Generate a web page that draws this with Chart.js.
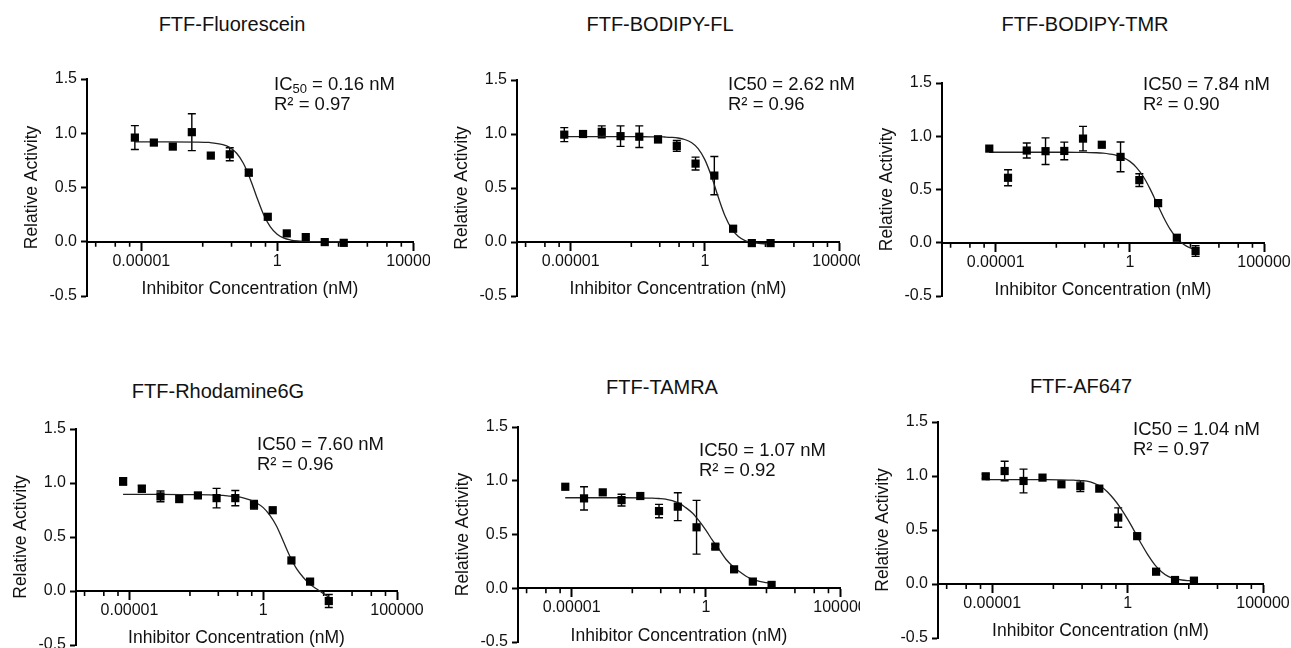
<!DOCTYPE html>
<html>
<head>
<meta charset="utf-8">
<script src="https://cdn.jsdelivr.net/npm/chart.js"></script>
<style>
body { margin: 0; background: #fff; width: 1291px; height: 648px; overflow: hidden; position: relative; font-family: "Liberation Sans", Arial, Helvetica, sans-serif; }
.panel { position: absolute; }
.ptitle { position: absolute; font-size: 20px; color: #111; transform: translate(-50%, -50%); white-space: nowrap; }
</style>
</head>
<body>
<script>
// inhibitor concentrations (nM), 5-fold dilution
const conc = [5.78e-6, 2.89e-5, 1.44e-4, 7.22e-4, 3.61e-3, 0.0180, 0.0902, 0.451, 2.26, 11.3, 56.4, 282];
const curveX = [5.75e-6, 1e-4, 1e-3, 3.16e-3, 0.01, 0.0178, 0.0316, 0.0562, 0.1, 0.178, 0.316, 0.562, 1, 1.78, 3.16, 5.62, 10, 17.8, 31.6, 56.2, 100, 178, 282];

const xTickVals = [1e-5, 1, 1e5];
const xTickLabels = ["0.00001", "1", "100000"];
const xMinorExp = [-6.68, -5.96, -5.43, -2.74, -1.68, -0.96, -0.43, 2.26, 3.32, 4.04, 4.57];
const yTickVals = [-0.5, 0, 0.5, 1, 1.5];

const titles = ["FTF-Fluorescein", "FTF-BODIPY-FL", "FTF-BODIPY-TMR", "FTF-Rhodamine6G", "FTF-TAMRA", "FTF-AF647"];
const ic50 = ["0.16", "2.62", "7.84", "7.60", "1.07", "1.04"];
const r2 = ["0.97", "0.96", "0.90", "0.96", "0.92", "0.97"];

const fluoMean = [0.96, 0.914, 0.877, 1.01, 0.794, 0.806, 0.637, 0.23, 0.077, 0.043, -0.003, -0.01];
const fluoErr = [0.11, 0, 0, 0.17, 0, 0.06, 0.03, 0, 0, 0, 0, 0];
const fluoFit = [0.92, 0.92, 0.919, 0.915, 0.896, 0.87, 0.818, 0.726, 0.584, 0.411, 0.251, 0.137, 0.069, 0.033, 0.016, 0.0074, 0.0035, 0.0016, 0.001, 0, 0, 0, 0];

const flMean = [0.994, 1.0, 1.02, 0.98, 0.975, 0.95, 0.89, 0.726, 0.615, 0.123, -0.01, -0.01];
const flErr = [0.065, 0.02, 0.055, 0.095, 0.1, 0.03, 0.05, 0.06, 0.177, 0.02, 0, 0];
const flFit = [0.975, 0.975, 0.975, 0.975, 0.974, 0.974, 0.972, 0.969, 0.963, 0.949, 0.921, 0.865, 0.763, 0.606, 0.416, 0.243, 0.121, 0.05, 0.0135, -0.004, -0.013, -0.0166, -0.018];

const tmrMean = [0.884, 0.61, 0.866, 0.86, 0.862, 0.978, 0.92, 0.806, 0.588, 0.372, 0.047, -0.078];
const tmrErr = [0, 0.075, 0.07, 0.125, 0.083, 0.115, 0, 0.14, 0.06, 0.03, 0, 0.05];
const tmrFit = [0.85, 0.85, 0.85, 0.8497, 0.849, 0.848, 0.847, 0.845, 0.841, 0.833, 0.821, 0.799, 0.764, 0.706, 0.622, 0.508, 0.375, 0.242, 0.128, 0.043, -0.014, -0.0495, -0.0675];

const rhoMean = [1.015, 0.947, 0.876, 0.851, 0.885, 0.86, 0.86, 0.798, 0.748, 0.283, 0.087, -0.093];
const rhoErr = [0.035, 0.03, 0.05, 0, 0, 0.09, 0.07, 0.04, 0, 0, 0, 0.06];
const rhoFit = [0.894, 0.894, 0.893, 0.892, 0.89, 0.888, 0.885, 0.879, 0.873, 0.862, 0.843, 0.815, 0.772, 0.7, 0.6, 0.46, 0.32, 0.205, 0.125, 0.062, 0.018, -0.024, -0.056];

const tamMean = [0.944, 0.836, 0.892, 0.82, 0.858, 0.718, 0.759, 0.567, 0.387, 0.176, 0.062, 0.031];
const tamErr = [0, 0.108, 0, 0.055, 0, 0.062, 0.13, 0.25, 0.02, 0, 0, 0];
const tamFit = [0.842, 0.842, 0.842, 0.841, 0.838, 0.835, 0.83, 0.815, 0.792, 0.75, 0.7, 0.626, 0.54, 0.445, 0.36, 0.27, 0.205, 0.155, 0.112, 0.082, 0.063, 0.052, 0.046];

const afMean = [0.997, 1.046, 0.954, 0.985, 0.923, 0.905, 0.883, 0.615, 0.443, 0.114, 0.037, 0.031];
const afErr = [0.02, 0.09, 0.11, 0, 0, 0.05, 0, 0.09, 0, 0, 0, 0.02];
const afFit = [0.966, 0.966, 0.966, 0.965, 0.962, 0.958, 0.953, 0.935, 0.905, 0.855, 0.785, 0.7, 0.6, 0.49, 0.375, 0.27, 0.18, 0.113, 0.07, 0.05, 0.037, 0.031, 0.028];

const means = [fluoMean, flMean, tmrMean, rhoMean, tamMean, afMean];
const errs = [fluoErr, flErr, tmrErr, rhoErr, tamErr, afErr];
const fits = [fluoFit, flFit, tmrFit, rhoFit, tamFit, afFit];

// plot box [y-axis x, top(1.5), right(1e5), bottom(-0.5)], canvas right edge, title centre, note position
const panels = [
	{ box: [87, 79, 413, 296], edge: 430, title: [232, 24], note: [274, 85] },
	{ box: [517, 80, 839, 296], edge: 860, title: [660, 24], note: [728, 85] },
	{ box: [942, 83, 1264, 296], edge: 1291, title: [1085, 24], note: [1143, 85] },
	{ box: [76, 429, 397, 645], edge: 430, title: [218, 391], note: [257, 445] },
	{ box: [518, 427, 840, 642], edge: 860, title: [662, 387], note: [699, 451] },
	{ box: [938, 422, 1263, 638], edge: 1291, title: [1081, 386], note: [1133, 430] },
];

const fam = '"Liberation Sans", Arial, Helvetica, sans-serif';
Chart.defaults.font.family = fam;
Chart.defaults.color = "#111";

const yW = 80;
const padTop = 12;
const padBottom = 12;

const extras = {
	id: "extras",
	beforeDatasetsDraw(chart, args, opts) {
		let i = opts.panel;
		let ctx = chart.ctx;
		let xs = chart.scales.x, ys = chart.scales.y;
		ctx.save();
		ctx.strokeStyle = "#000";
		ctx.lineWidth = 1.4;
		means[i].forEach((m, k) => {
			let e = errs[i][k];
			if(!e) {
				return;
			}
			let px = xs.getPixelForValue(conc[k]);
			let t = ys.getPixelForValue(m + e);
			let b = ys.getPixelForValue(m - e);
			ctx.beginPath();
			ctx.moveTo(px, t);
			ctx.lineTo(px, b);
			ctx.moveTo(px - 4, t);
			ctx.lineTo(px + 4, t);
			ctx.moveTo(px - 4, b);
			ctx.lineTo(px + 4, b);
			ctx.stroke();
		});
		// short minor ticks under the x axis
		let y0 = ys.getPixelForValue(0);
		ctx.lineWidth = 1.6;
		xMinorExp.forEach((ex) => {
			let px = xs.getPixelForValue(Math.pow(10, ex));
			ctx.beginPath();
			ctx.moveTo(px, y0);
			ctx.lineTo(px, y0 + 5);
			ctx.stroke();
		});
		ctx.restore();
	},
	afterDraw(chart, args, opts) {
		let i = opts.panel;
		let p = panels[i];
		let ctx = chart.ctx;
		let x = p.note[0] - chart.canvas.offsetParent.offsetLeft;
		let y = p.note[1] - chart.canvas.offsetParent.offsetTop;
		ctx.save();
		ctx.fillStyle = "#111";
		ctx.textBaseline = "middle";
		ctx.font = "18.5px " + fam;
		if(i == 0) {
			// subscript 50 on the first panel only
			ctx.fillText("IC", x, y);
			let w = ctx.measureText("IC").width;
			ctx.font = "13px " + fam;
			ctx.fillText("50", x + w, y + 4);
			w += ctx.measureText("50").width;
			ctx.font = "18.5px " + fam;
			ctx.fillText(" = " + ic50[i] + " nM", x + w, y);
		} else {
			ctx.fillText("IC50 = " + ic50[i] + " nM", x, y);
		}
		ctx.fillText("R\u00b2 = " + r2[i], x, y + 19.5);
		ctx.restore();
	}
};

function makePanel(i) {
	let p = panels[i];
	let b = p.box;
	let left = b[0] - yW;
	let top = b[1] - padTop;
	let w = p.edge - left;
	let h = b[3] + padBottom - top;

	let div = document.createElement("div");
	div.className = "panel";
	div.style.left = left + "px";
	div.style.top = top + "px";
	div.style.width = w + "px";
	div.style.height = h + "px";
	let cv = document.createElement("canvas");
	cv.width = w;
	cv.height = h;
	div.appendChild(cv);
	document.body.appendChild(div);

	let t = document.createElement("div");
	t.className = "ptitle";
	t.innerText = titles[i];
	t.style.left = p.title[0] + "px";
	t.style.top = p.title[1] + "px";
	document.body.appendChild(t);

	let pts = means[i].map((v, k) => ({ x: conc[k], y: v }));
	let line = fits[i].map((v, k) => ({ x: curveX[k], y: v }));

	new Chart(cv, {
		type: "scatter",
		data: {
			datasets: [{
				data: pts,
				pointStyle: "rect",
				pointRadius: 5.8,
				backgroundColor: "#000",
				borderColor: "#000",
				borderWidth: 0,
				order: 0
			}, {
				data: line,
				showLine: true,
				pointRadius: 0,
				borderColor: "#222",
				borderWidth: 1.3,
				cubicInterpolationMode: "monotone",
				order: 1
			}]
		},
		options: {
			responsive: false,
			animation: false,
			layout: { padding: { left: 0, top: padTop, right: p.edge - b[2], bottom: padBottom } },
			plugins: {
				legend: { display: false },
				tooltip: { enabled: false },
				extras: { panel: i }
			},
			scales: {
				x: {
					type: "logarithmic",
					min: 1e-7,
					max: 1e5,
					position: { y: 0 },
					afterBuildTicks: (s) => { s.ticks = xTickVals.map(v => ({ value: v })); },
					afterFit: (s) => { s.height = 60; s.paddingLeft = 0; s.paddingRight = 0; },
					ticks: {
						autoSkip: false,
						maxRotation: 0,
						padding: 2,
						font: { size: 16 },
						callback: (v) => {
							let k = xTickVals.indexOf(v);
							return k >= 0 ? xTickLabels[k] : "";
						}
					},
					grid: { drawOnChartArea: false, tickLength: 8, tickWidth: 2, tickColor: "#000" },
					border: { display: true, color: "#000", width: 2 },
					title: { display: true, text: "Inhibitor Concentration (nM)", font: { size: 17.5 }, padding: { top: 0, bottom: 2 } }
				},
				y: {
					type: "linear",
					min: -0.5,
					max: 1.5,
					afterBuildTicks: (s) => { s.ticks = yTickVals.map(v => ({ value: v })); },
					afterFit: (s) => { s.width = yW; s.paddingTop = 0; s.paddingBottom = 0; },
					ticks: { padding: 4, font: { size: 16 }, callback: (v) => v.toFixed(1) },
					grid: { drawOnChartArea: false, tickLength: 6, tickWidth: 2, tickColor: "#000" },
					border: { display: true, color: "#000", width: 2 },
					title: { display: true, text: "Relative Activity", font: { size: 17.5 }, padding: { top: 15, bottom: 0 } }
				}
			}
		},
		plugins: [extras]
	});
}

panels.forEach((p, i) => makePanel(i));
</script>
</body>
</html>
